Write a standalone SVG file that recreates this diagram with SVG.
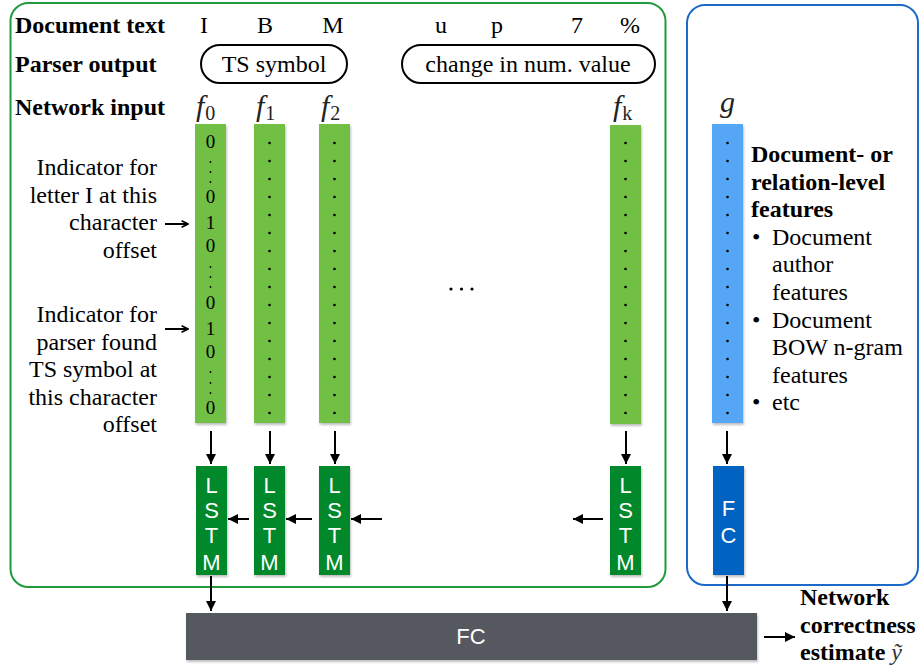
<svg xmlns="http://www.w3.org/2000/svg" width="922" height="666" viewBox="0 0 922 666">
<style>
.lbl{font-family:"Liberation Serif","Times New Roman",serif;font-size:24px;fill:#000}
.b{font-weight:bold}
.dig{font-family:"Liberation Serif","Times New Roman",serif;font-size:19px;fill:#000;text-anchor:middle}
.sans{font-family:"Liberation Sans",Arial,sans-serif;font-size:22px;fill:#fff;text-anchor:middle}
.math{font-family:"Liberation Serif","Times New Roman",serif;font-style:italic;font-size:30px;fill:#222}
.sub{font-style:normal;font-size:20px}
.col{fill:#72bf44}
.colb{fill:#55a6f7}
.lstm{fill:#00882b}
.conn{stroke:#000;stroke-width:2;fill:none}
.pill{fill:#fff;stroke:#000;stroke-width:2}
</style>
<defs>
<marker id="ah" viewBox="0 0 10 10" refX="10" refY="5" markerWidth="5" markerHeight="5" orient="auto" markerUnits="strokeWidth">
<path d="M0,0 L10,5 L0,10 z" fill="#000"/>
</marker>
<marker id="oh" viewBox="0 0 10 10" refX="9" refY="5" markerWidth="4" markerHeight="4" orient="auto" markerUnits="strokeWidth">
<path d="M1,1 L9,5 L1,9" fill="none" stroke="#000" stroke-width="2"/>
</marker>
<filter id="sh" x="-20%" y="-5%" width="150%" height="115%">
<feDropShadow dx="1" dy="2" stdDeviation="1.2" flood-color="#000" flood-opacity="0.25"/>
</filter>
<g id="dots16">
<circle cx="0" cy="143" r="1.3"/><circle cx="0" cy="161" r="1.3"/><circle cx="0" cy="179" r="1.3"/><circle cx="0" cy="197" r="1.3"/>
<circle cx="0" cy="215" r="1.3"/><circle cx="0" cy="233" r="1.3"/><circle cx="0" cy="251" r="1.3"/><circle cx="0" cy="269" r="1.3"/>
<circle cx="0" cy="287" r="1.3"/><circle cx="0" cy="305" r="1.3"/><circle cx="0" cy="323" r="1.3"/><circle cx="0" cy="341" r="1.3"/>
<circle cx="0" cy="359" r="1.3"/><circle cx="0" cy="377" r="1.3"/><circle cx="0" cy="395" r="1.3"/><circle cx="0" cy="413" r="1.3"/>
</g>
</defs>
<rect width="922" height="666" fill="#fff"/>

<g id="frame-sequence"><rect x="10.5" y="3" width="655" height="584" rx="18" fill="none" stroke="#1f9a3c" stroke-width="2"/></g>
<g id="frame-document"><rect x="687" y="5" width="231" height="580" rx="18" fill="none" stroke="#1b6ac9" stroke-width="2"/></g>

<g id="row-labels" class="lbl b">
<text x="15" y="33">Document text</text>
<text x="15" y="72">Parser output</text>
<text x="15" y="115">Network input</text>
</g>

<g id="document-text" class="lbl" text-anchor="middle">
<text x="204" y="33">I</text><text x="265" y="33">B</text><text x="333" y="33">M</text>
<text x="441" y="33">u</text><text x="497" y="33">p</text><text x="577" y="33">7</text><text x="630" y="33">%</text>
</g>

<g id="parser-ts"><rect class="pill" x="201" y="45" width="146" height="38" rx="19"/><text class="lbl" x="274" y="72" text-anchor="middle">TS symbol</text></g>
<g id="parser-change"><rect class="pill" x="402" y="45" width="253" height="38" rx="19"/><text class="lbl" x="528" y="72" text-anchor="middle">change in num. value</text></g>

<g id="f0">
<text class="math" x="196" y="116">f<tspan class="sub" dx="1" dy="4">0</tspan></text>
<rect class="col" x="195" y="124" width="31" height="299" filter="url(#sh)"/>
<g class="dig">
<text x="210.5" y="148">0</text>
<text x="210.5" y="203">0</text><text x="210.5" y="229">1</text><text x="210.5" y="252">0</text>
<text x="210.5" y="309">0</text><text x="210.5" y="335">1</text><text x="210.5" y="358">0</text>
<text x="210.5" y="414">0</text>
</g>
<g fill="#000">
<circle cx="210.5" cy="162" r="0.9"/><circle cx="210.5" cy="172" r="0.9"/><circle cx="210.5" cy="182" r="0.9"/>
<circle cx="210.5" cy="267" r="0.9"/><circle cx="210.5" cy="277" r="0.9"/><circle cx="210.5" cy="287" r="0.9"/>
<circle cx="210.5" cy="372" r="0.9"/><circle cx="210.5" cy="383" r="0.9"/><circle cx="210.5" cy="393" r="0.9"/>
</g>
</g>
<g id="f1">
<text class="math" x="256" y="116">f<tspan class="sub" dx="1" dy="4">1</tspan></text>
<rect class="col" x="254" y="124" width="31" height="299" filter="url(#sh)"/>
<use href="#dots16" x="269.5" fill="#000"/>
</g>
<g id="f2">
<text class="math" x="321" y="116">f<tspan class="sub" dx="1" dy="4">2</tspan></text>
<rect class="col" x="319" y="124" width="31" height="299" filter="url(#sh)"/>
<use href="#dots16" x="334.5" fill="#000"/>
</g>
<g id="fk">
<text class="math" x="613" y="116">f<tspan class="sub" font-style="italic" dx="1" dy="4">k</tspan></text>
<rect class="col" x="610" y="125" width="31" height="299" filter="url(#sh)"/>
<use href="#dots16" x="625.5" fill="#000"/>
</g>
<g id="ellipsis" fill="#000"><circle cx="451" cy="289" r="1.6"/><circle cx="461.5" cy="289" r="1.6"/><circle cx="472" cy="289" r="1.6"/></g>

<g id="g-features">
<text class="math" x="720" y="112">g</text>
<rect class="colb" x="712" y="124" width="31" height="299" filter="url(#sh)"/>
<use href="#dots16" x="727.5" fill="#000"/>
</g>

<g id="note-letter" class="lbl" text-anchor="end">
<text x="157" y="175">Indicator for</text>
<text x="157" y="202.6">letter I at this</text>
<text x="157" y="230.2">character</text>
<text x="157" y="257.8">offset</text>
</g>
<g id="note-parser" class="lbl" text-anchor="end">
<text x="157" y="322">Indicator for</text>
<text x="157" y="349.6">parser found</text>
<text x="157" y="377.2">TS symbol at</text>
<text x="157" y="404.8">this character</text>
<text x="157" y="432.4">offset</text>
</g>

<g id="note-document" class="lbl">
<text class="b" x="751" y="162">Document- or</text>
<text class="b" x="751" y="189.6">relation-level</text>
<text class="b" x="751" y="217.2">features</text>
<text x="752" y="244.8">•</text><text x="772" y="244.8">Document</text>
<text x="772" y="272.4">author</text>
<text x="772" y="300">features</text>
<text x="752" y="327.6">•</text><text x="772" y="327.6">Document</text>
<text x="772" y="355.2">BOW n-gram</text>
<text x="772" y="382.8">features</text>
<text x="752" y="410.4">•</text><text x="772" y="410.4">etc</text>
</g>

<g id="lstm0"><rect class="lstm" x="196" y="466" width="31" height="109" filter="url(#sh)"/><g class="sans"><text x="211.5" y="493">L</text><text x="211.5" y="518">S</text><text x="211.5" y="543">T</text><text x="211.5" y="570">M</text></g></g>
<g id="lstm1"><rect class="lstm" x="254" y="466" width="31" height="109" filter="url(#sh)"/><g class="sans"><text x="269.5" y="493">L</text><text x="269.5" y="518">S</text><text x="269.5" y="543">T</text><text x="269.5" y="570">M</text></g></g>
<g id="lstm2"><rect class="lstm" x="319" y="466" width="31" height="109" filter="url(#sh)"/><g class="sans"><text x="334.5" y="493">L</text><text x="334.5" y="518">S</text><text x="334.5" y="543">T</text><text x="334.5" y="570">M</text></g></g>
<g id="lstmk"><rect class="lstm" x="610" y="466" width="31" height="109" filter="url(#sh)"/><g class="sans"><text x="625.5" y="493">L</text><text x="625.5" y="518">S</text><text x="625.5" y="543">T</text><text x="625.5" y="570">M</text></g></g>
<g id="fc-doc"><rect x="713" y="466" width="31" height="109" fill="#0563c1" filter="url(#sh)"/><g class="sans"><text x="728.5" y="516">F</text><text x="728.5" y="543">C</text></g></g>

<g id="fc-final"><rect x="186" y="613" width="571" height="47" fill="#55585e" filter="url(#sh)"/><text class="sans" x="471" y="644" fill="#e8e8e8">FC</text></g>

<g id="output-label" class="lbl b">
<text x="800" y="605">Network</text>
<text x="800" y="633">correctness</text>
<text x="800" y="660">estimate <tspan font-weight="normal" font-style="italic" fill="#333">ỹ</tspan></text>
</g>

<g id="connectors" class="conn">
<line x1="165" y1="224" x2="188" y2="224" marker-end="url(#oh)"/>
<line x1="165" y1="329" x2="188" y2="329" marker-end="url(#oh)"/>
<line x1="211" y1="431" x2="211" y2="464" marker-end="url(#ah)"/>
<line x1="270" y1="431" x2="270" y2="464" marker-end="url(#ah)"/>
<line x1="335" y1="431" x2="335" y2="464" marker-end="url(#ah)"/>
<line x1="626" y1="431" x2="626" y2="464" marker-end="url(#ah)"/>
<line x1="727" y1="431" x2="727" y2="464" marker-end="url(#ah)"/>
<line x1="249" y1="519" x2="228" y2="519" marker-end="url(#ah)"/>
<line x1="312" y1="519" x2="286" y2="519" marker-end="url(#ah)"/>
<line x1="382" y1="519" x2="351" y2="519" marker-end="url(#ah)"/>
<line x1="603" y1="519" x2="573" y2="519" marker-end="url(#ah)"/>
<line x1="211" y1="576" x2="211" y2="611" marker-end="url(#ah)"/>
<line x1="727" y1="576" x2="727" y2="611" marker-end="url(#ah)"/>
<line x1="764" y1="637" x2="795" y2="637" marker-end="url(#ah)"/>
</g>
</svg>
